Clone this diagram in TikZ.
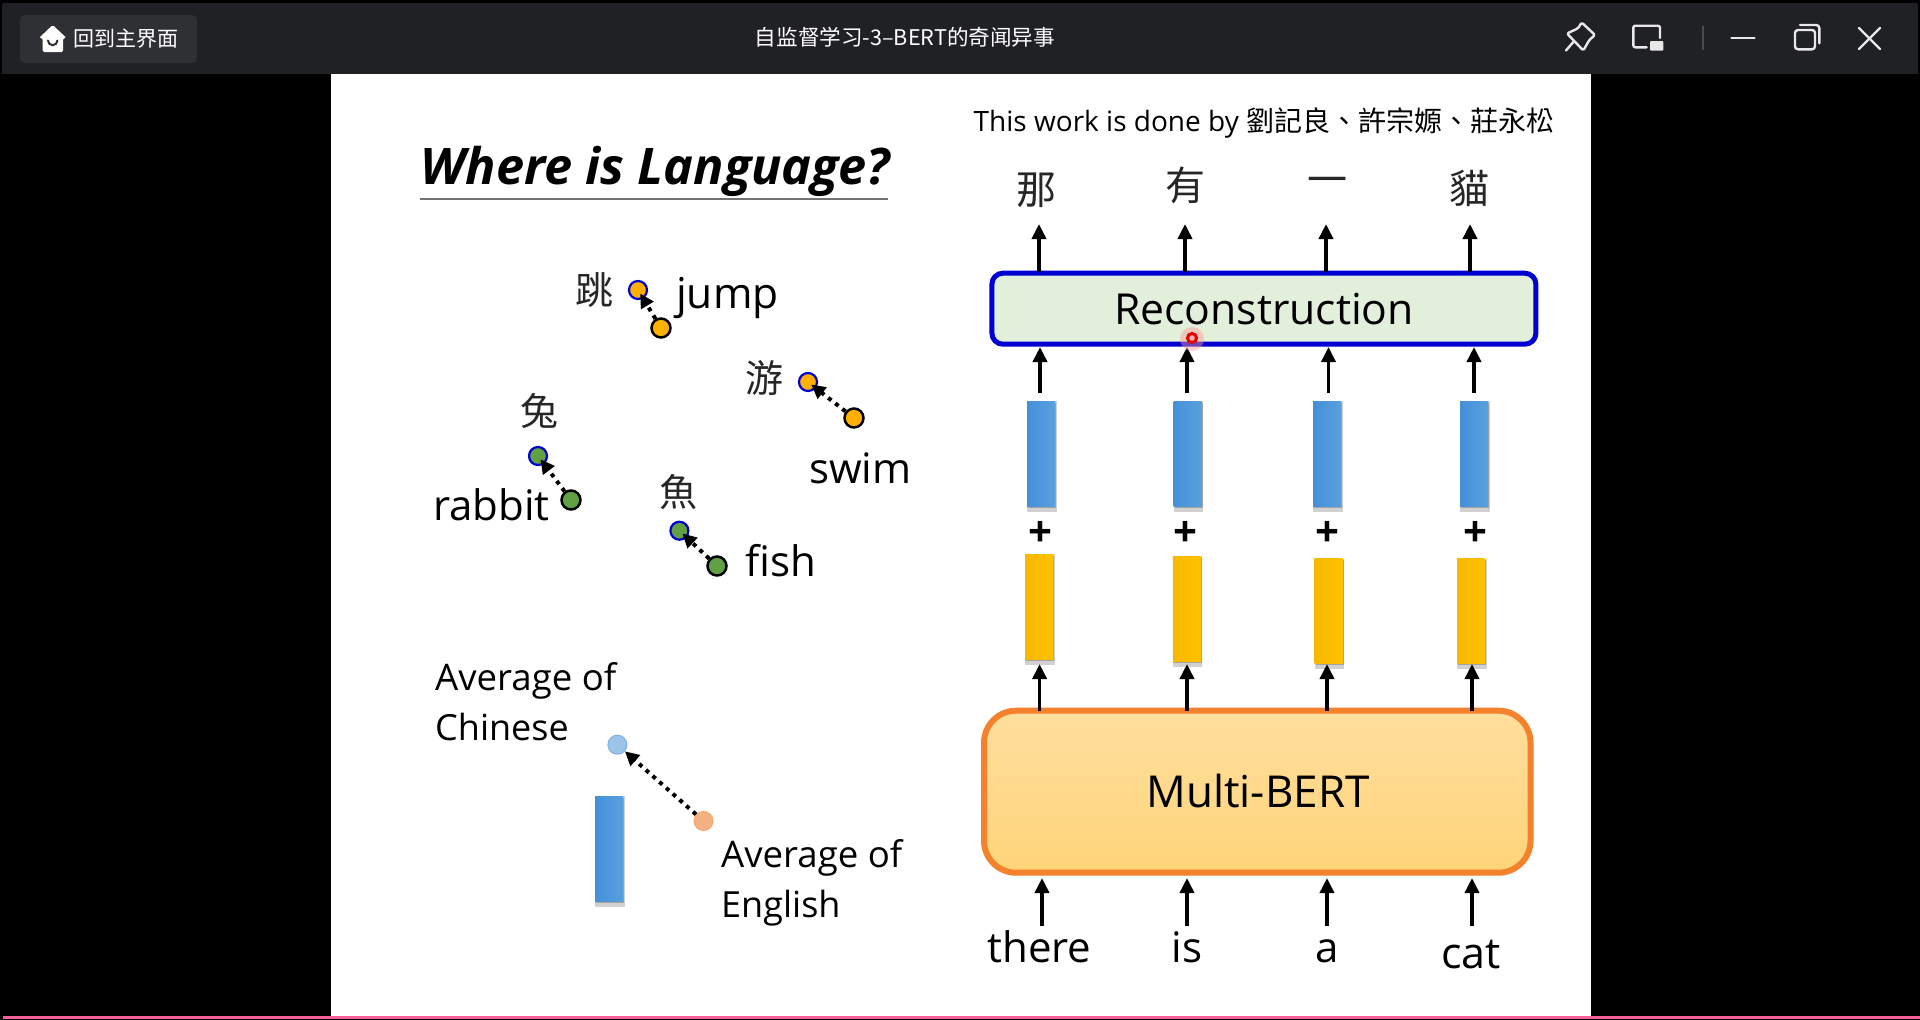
\documentclass[tikz,border=0pt]{standalone}
\usepackage{fontspec}
\setmainfont{Open Sans}
\newfontfamily\cjk{Noto Sans CJK TC}
\newfontfamily\cjksc{Noto Sans CJK SC}
\usetikzlibrary{arrows.meta,shadows,calc}
\definecolor{barbg}{HTML}{202124}
\definecolor{btnbg}{HTML}{2F3034}
\definecolor{iconcol}{HTML}{E8E8E8}
\definecolor{sepcol}{HTML}{4A4B50}
\definecolor{blueL}{HTML}{4490D8}
\definecolor{blueR}{HTML}{5AA0DE}
\definecolor{yelL}{HTML}{F9B800}
\definecolor{yelR}{HTML}{FFC200}
\definecolor{recfill}{HTML}{E2EFDA}
\definecolor{recline}{HTML}{0000D0}
\definecolor{bertline}{HTML}{F4812C}
\definecolor{bertT}{HTML}{FFDF9E}
\definecolor{bertB}{HTML}{FFD479}
\definecolor{dotorange}{HTML}{FFB000}
\definecolor{dotgreen}{HTML}{62A044}
\definecolor{avblue}{HTML}{9DC3E6}
\definecolor{avorange}{HTML}{F4B183}
\definecolor{pinkline}{HTML}{F45F9C}
\tikzset{
 x=1pt,y=-1pt,
 lbl/.style={inner sep=0pt,anchor=base west,text=black},
 ctr/.style={inner sep=0pt,anchor=base,text=black},
 han/.style={inner sep=0pt,anchor=center,font=\cjk\fontsize{38}{38}\selectfont,text=black!85},
 upar/.style={-{Triangle[length=15pt,width=14pt]},line width=3.6pt,black},
 softshadow/.style={
   general shadow={shadow scale=1.05,shadow xshift=0.6pt,shadow yshift=-2.6pt,opacity=.18,fill=black},
   general shadow={shadow xshift=1pt,shadow yshift=-1.5pt,opacity=.22,fill=black}},
 vecbar/.style={draw=none,inner sep=0pt,minimum width=28pt,minimum height=105pt,anchor=north west,softshadow},
 bluebar/.style={vecbar,left color=blueL,right color=blueR},
 yelbar/.style={vecbar,left color=yelL,right color=yelR},
 dotb/.style={circle,inner sep=0pt,minimum size=18pt,draw=recline,line width=2.2pt},
 dotk/.style={circle,inner sep=0pt,minimum size=19pt,draw=black,line width=2.5pt},
 dash arrow/.style={-{Triangle[length=14pt,width=14pt]},line width=4pt,black,dash pattern=on 4pt off 5pt},
 plusmark/.style={inner sep=0pt,font=\bfseries\fontsize{42}{42}\selectfont,text=black},
 iconln/.style={draw=iconcol,line width=2.4pt,line join=round,line cap=round},
}
\begin{document}
\begin{tikzpicture}
\useasboundingbox (0,0) rectangle (1920,1020);
% window
\fill[black] (0,0) rectangle (1920,1020);
\fill[barbg] (2,3) rectangle (1918,74);
\fill[white] (331,74) rectangle (1591,1016);
\fill[pinkline] (3,1015.5) rectangle (1920,1019);
% top bar content
\node[draw=none,fill=btnbg,rounded corners=5pt,inner sep=0pt,minimum width=177pt,minimum height=48pt] (homebtn) at (108.5,39) {};
\fill[white,rounded corners=1.5pt] (39,38) -- (52.7,25) -- (66.5,38) -- (63,38) -- (63,52) -- (42.7,52) -- (42.7,38) -- cycle;
\draw[btnbg,line width=2pt,line cap=round] (48,40.5) arc[start angle=180,end angle=360,radius=4.7pt];
\node[inner sep=0pt,anchor=west,font=\cjksc\fontsize{21}{21}\selectfont,text=white] (hometext) at (73.5,38.5) {回到主界面};
\node[inner sep=0pt,anchor=center,font=\cjksc\fontsize{21.6}{22}\selectfont,text=white] (wtitle) at (905,37) {自监督学习-3–BERT的奇闻异事};
% icons
\draw[iconln,rounded corners=1.5pt] (1581.7,22.5) -- (1595,35) -- (1589.3,40) -- (1583.3,50.5) -- (1567,33.5) -- (1578,28.3) -- cycle;
\draw[iconln] (1573.3,42) -- (1566,50.5);
\draw[iconln,rounded corners=2pt] (1660,38) -- (1660,25.7) -- (1633.3,25.7) -- (1633.3,47.3) -- (1646.7,47.3);
\fill[iconcol,rounded corners=1pt] (1650,41) rectangle (1663.3,50.7);
\draw[sepcol,line width=1.5pt] (1703,25.7) -- (1703,50);
\draw[iconln] (1731.5,38) -- (1754.5,38);
\draw[iconln,rounded corners=3pt] (1795,30) rectangle (1815,49.3);
\draw[iconln,rounded corners=3pt] (1800,25) -- (1819.3,25) -- (1819.3,43.3);
\draw[iconln] (1859,28) -- (1880,49);
\draw[iconln] (1880,28) -- (1859,49);
% title
\node[lbl,font=\bfseries\itshape\fontsize{50.4}{50}\selectfont] (ttl) at (420.5,184) {Where is Language?};
\draw[black!55,line width=2pt] (420,198.7) -- (888,198.7);
\node[lbl,font=\fontsize{28}{28}\selectfont] (credit) at (973.5,131) {This work is done by {\cjk 劉記良、許宗嫄、莊永松}};
% word pairs
\node[han] (tiao) at (594,290) {跳};
\node[han] (you2) at (764,378) {游};
\node[han] (tu) at (539.5,411) {兔};
\node[han] (yu) at (678.5,492) {魚};
\node[dotb,fill=dotorange] (d1a) at (638,290) {};
\node[dotk,fill=dotorange] (d1b) at (661,328) {};
\node[dotb,fill=dotorange] (d2a) at (808,382) {};
\node[dotk,fill=dotorange] (d2b) at (854,418) {};
\node[dotb,fill=dotgreen] (d3a) at (538,456) {};
\node[dotk,fill=dotgreen] (d3b) at (571,500) {};
\node[dotb,fill=dotgreen] (d4a) at (679.4,530.7) {};
\node[dotk,fill=dotgreen] (d4b) at (717,566) {};
\draw[dash arrow,shorten >=-6pt] (d1b) -- (d1a);
\draw[dash arrow,shorten >=-6pt] (d2b) -- (d2a);
\draw[dash arrow,shorten >=-6pt] (d3b) -- (d3a);
\draw[dash arrow,shorten >=-6pt] (d4b) -- (d4a);
\node[lbl,font=\fontsize{42.5}{44}\selectfont] (jump) at (676,308) {jump};
\node[lbl,font=\fontsize{42}{44}\selectfont] (swim) at (809,483) {swim};
\node[lbl,font=\fontsize{42}{44}\selectfont] (rabbit) at (433,520) {rabbit};
\node[lbl,font=\fontsize{42}{44}\selectfont] (fish) at (745,576) {fish};
% averages
\node[lbl,font=\fontsize{36.6}{37}\selectfont] (avc1) at (435,690) {Average of};
\node[lbl,font=\fontsize{36}{37}\selectfont] (avc2) at (435,740) {Chinese};
\node[lbl,font=\fontsize{36.6}{37}\selectfont] (ave1) at (721,867) {Average of};
\node[lbl,font=\fontsize{36}{37}\selectfont] (ave2) at (721,917) {English};
\node[circle,inner sep=0pt,minimum size=19pt,fill=avblue,draw=blueL!70,line width=1pt] (avcd) at (617.4,744.7) {};
\node[circle,inner sep=0pt,minimum size=19pt,fill=avorange,draw=bertline!70,line width=1pt] (aved) at (703.5,821) {};
\draw[dash arrow] (aved) -- (avcd);
\node[bluebar] (avbar) at (595,796) {};
% BERT box
\node[draw=bertline,line width=6pt,rounded corners=32pt,inner sep=0pt,minimum width=546.5pt,minimum height=162pt,top color=bertT,bottom color=bertB,anchor=north west] (bert) at (981,707.7) {};
\node[ctr,font=\fontsize{44}{44}\selectfont] (berttext) at (1258,807.7) {Multi-BERT};
% Reconstruction box
\node[draw=recline,line width=5pt,rounded corners=11pt,fill=recfill,inner sep=0pt,minimum width=544pt,minimum height=71pt,anchor=north west] (rec) at (989.4,270.7) {};
\node[ctr,font=\fontsize{42.7}{43}\selectfont] (rectext) at (1264,324) {Reconstruction};
% outputs
\node[han,font=\cjk\fontsize{40}{40}\selectfont] (o1) at (1036.5,190) {那};
\node[han,font=\cjk\fontsize{40}{40}\selectfont] (o2) at (1185,185) {有};
\node[han,font=\cjk\fontsize{40}{40}\selectfont] (o3) at (1327,186) {一};
\node[han,font=\cjk\fontsize{40}{40}\selectfont] (o4) at (1469.5,188) {貓};
\foreach \x/\n in {1039/1,1185/2,1326/3,1470/4}{
 \coordinate (ta\n) at (\x,272);
 \coordinate (tb\n) at (\x,224);
 \draw[upar] (ta\n) -- (tb\n);
}
% blue bars
\node[bluebar] (b1) at (1027,401) {};
\node[bluebar] (b2) at (1173.5,401) {};
\node[bluebar] (b3) at (1313,401) {};
\node[bluebar] (b4) at (1460,401) {};
\foreach \x/\n in {1040/1,1187/2,1328.5/3,1474/4}{
 \coordinate (ra\n) at (\x,393);
 \coordinate (rb\n) at (\x,347);
 \draw[upar] (ra\n) -- (rb\n);
}
% plus
\node[plusmark] (p1) at (1040.4,534) {+};
\node[plusmark] (p2) at (1185.7,534) {+};
\node[plusmark] (p3) at (1327.8,534) {+};
\node[plusmark] (p4) at (1475.5,534) {+};
% yellow bars
\node[yelbar] (y1) at (1025,554) {};
\node[yelbar] (y2) at (1172.6,556) {};
\node[yelbar] (y3) at (1314.5,558.7) {};
\node[yelbar] (y4) at (1457,558.7) {};
\foreach \x/\n in {1039.6/1,1187/2,1327/3,1472/4}{
 \coordinate (ma\n) at (\x,711);
 \coordinate (mb\n) at (\x,664);
 \draw[upar] (ma\n) -- (mb\n);
}
\foreach \x/\n in {1042/1,1187/2,1327/3,1472/4}{
 \coordinate (la\n) at (\x,926);
 \coordinate (lb\n) at (\x,878);
 \draw[upar] (la\n) -- (lb\n);
}
% inputs
\node[ctr,font=\fontsize{42}{44}\selectfont] (w1) at (1039.5,962) {there};
\node[ctr,font=\fontsize{42}{44}\selectfont] (w2) at (1187,962) {is};
\node[ctr,font=\fontsize{42}{44}\selectfont] (w3) at (1327,962) {a};
\node[ctr,font=\fontsize{43}{44}\selectfont] (w4) at (1471,968) {cat};
% pointer
\fill[red!40,opacity=.45] (1192,339) circle (12pt);
\draw[red!90!black,line width=3pt,fill=white!70!red] (1192,338) circle (4.5pt);
\end{tikzpicture}
\end{document}
